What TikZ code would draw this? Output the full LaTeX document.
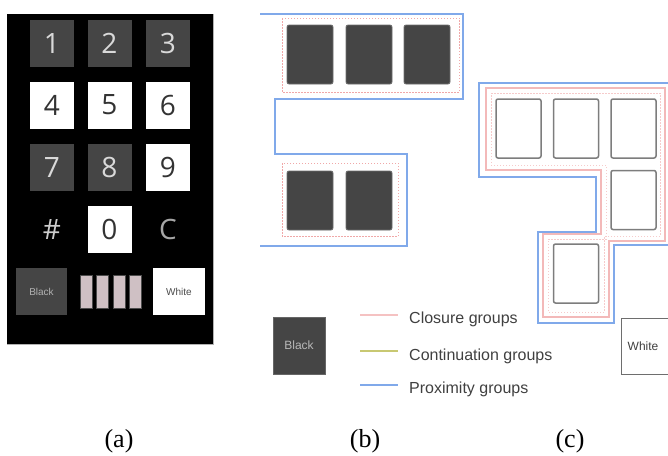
\documentclass[tikz,border=0pt]{standalone}
\usepackage{fontspec}
\setmainfont{Liberation Serif}
\newfontfamily\keyfont{Open Sans}
\newfontfamily\legendfont{Liberation Sans}

\definecolor{keygray}{HTML}{454545}
\definecolor{keyedge}{HTML}{6E6E6E}
\definecolor{proxblue}{HTML}{80A9EA}
\definecolor{clospink}{HTML}{F0A8A8}
\definecolor{contgreen}{HTML}{C8C872}
\definecolor{barpink}{HTML}{CFC0C4}

\tikzset{
  darkkey/.style={fill=keygray, text=white!85!black, minimum width=44pt, minimum height=47pt,
    inner sep=0pt, font=\keyfont\fontsize{28}{28}\selectfont},
  whitekey/.style={darkkey, fill=white, text=black!80},
  bare/.style={text=white!70!black, inner sep=0pt, font=\keyfont\fontsize{28}{28}\selectfont},
  blockkey/.style={fill=keygray, draw=keyedge, line width=0.8pt, rounded corners=2pt,
    minimum width=46pt, minimum height=59pt, inner sep=0pt},
  openkey/.style={blockkey, fill=white, draw=keyedge!90, line width=1.5pt, minimum width=45pt},
  proximity/.style={proxblue, line width=2.6pt},
  closure/.style={clospink, line width=0.9pt, dash pattern=on 1.5pt off 1.5pt},
  closureband/.style={clospink!80, line width=2.6pt},
  legendtext/.style={anchor=west, text=black!75, inner sep=0pt, font=\legendfont\fontsize{16}{16}\selectfont},
  caption/.style={anchor=base, inner sep=0pt, font=\fontsize{26}{26}\selectfont}
}

\begin{document}
\begin{tikzpicture}[x=1pt, y=-1pt]
    \useasboundingbox (0,0) rectangle (668,455);
    \clip (0,0) rectangle (668,455);

    % Keypad panel
    \fill[black] (7,14) rectangle (213,344);
    \draw[white!70!black, line width=0.8pt] (213,14) -- (213,344) -- (7,344);

    % Number keys
    \foreach \k/\x/\y/\s in {1/52/43.5/darkkey, 2/109.5/43.5/darkkey, 3/168/43.5/darkkey,
                             4/52/105/whitekey, 5/109.5/105/whitekey, 6/168/105/whitekey,
                             7/52/167.5/darkkey, 8/109.5/167.5/darkkey, 9/168/167.5/whitekey,
                             0/109.5/229.5/whitekey}
        \node[\s] (key\k) at (\x,\y) {\k};
    \node[bare, text=white!80!black] (hash) at (52,229.5) {\#};
    \node[bare, text=white!65!black] (clear) at (168,229.5) {C};

    % Bottom row: colour keys and bars
    \node[darkkey, minimum width=51pt, font=\legendfont\fontsize{10}{10}\selectfont,
          text=white!70!black] (kblack) at (41.5,291.5) {Black};
    \node[whitekey, minimum width=52pt, font=\legendfont\fontsize{10}{10}\selectfont,
          text=black!70] (kwhite) at (179,291.5) {White};
    \foreach \i/\x in {1/86.5, 2/102.5, 3/119, 4/135.5}
        \node[fill=barpink, draw=black!70, line width=0.6pt, minimum width=12pt,
              minimum height=33pt, inner sep=0pt] (bar\i) at (\x,291.5) {};

    % Black blocks with their groups
    \foreach \i/\x in {1/310, 2/369, 3/427}
        \node[blockkey] (btop\i) at (\x,54.5) {};
    \foreach \i/\x in {1/310, 2/369}
        \node[blockkey] (bbot\i) at (\x,200.5) {};
    \draw[closure] (282,18) rectangle (459,92);
    \draw[closure] (282,163) rectangle (398,236);
    \draw[proximity] (260,14) -- (463,14) -- (463,99) -- (275,99) -- (275,154)
        -- (407,154) -- (407,246) -- (260,246);

    % White blocks with their groups
    \foreach \i/\x in {1/518.5, 2/576, 3/633.5}
        \node[openkey] (ctop\i) at (\x,128.5) {};
    \node[openkey] (cmid) at (633.5,200) {};
    \node[openkey] (cbot) at (576,273.5) {};
    \draw[closureband] (486,88) -- (665,88) -- (665,241) -- (609,241) -- (609,317)
        -- (543,317) -- (543,234) -- (601,234) -- (601,170) -- (486,170) -- cycle;
    \draw[closure, clospink!60] (491,93) -- (660,93) -- (660,236) -- (604,236) -- (604,312)
        -- (548,312) -- (548,239) -- (606,239) -- (606,165) -- (491,165) -- cycle;
    \draw[proximity] (668,83) -- (479,83) -- (479,177) -- (596,177) -- (596,232)
        -- (538,232) -- (538,323) -- (614,323) -- (614,245) -- (668,245);

    % Legend
    \node[fill=keygray, draw=black!60, minimum width=52pt, minimum height=57pt, inner sep=0pt,
          text=white!72!black, font=\legendfont\fontsize{12}{12}\selectfont] (lblack) at (299,345.5) {Black};
    \node[draw=keyedge, line width=0.9pt, minimum width=60pt, minimum height=56pt, inner sep=0pt] (lwhite) at (651,346) {};
    \node[text=black!75, font=\legendfont\fontsize{12}{12}\selectfont] (lwhitetxt) at (643,346) {White};

    \coordinate (l1) at (360,315);
    \coordinate (l2) at (360,351);
    \coordinate (l3) at (360,385);
    \draw[clospink!70, line width=1.8pt] (l1) -- ++(38,0);
    \draw[contgreen, line width=1.8pt] (l2) -- ++(38,0);
    \draw[proxblue, line width=2.4pt] (l3) -- ++(38,0);
    \node[legendtext] (t1) at (409,319) {Closure groups};
    \node[legendtext] (t2) at (409,356) {Continuation groups};
    \node[legendtext] (t3) at (409,389) {Proximity groups};

    % Captions
    \node[caption] (capa) at (119,447) {(a)};
    \node[caption] (capb) at (365,447) {(b)};
    \node[caption] (capc) at (570,447) {(c)};
\end{tikzpicture}
\end{document}
